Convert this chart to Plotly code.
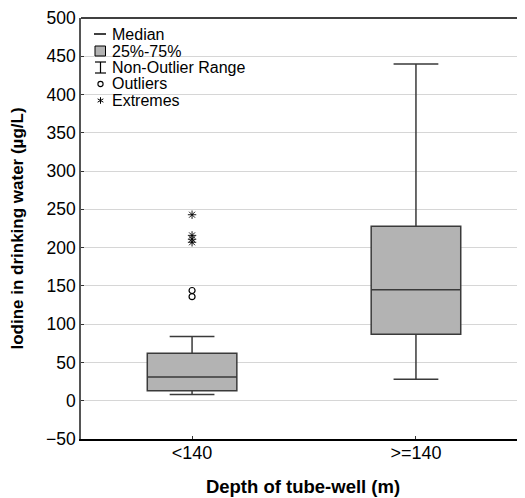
import plotly.graph_objects as go

# ---- data ----
categories = ["<140", ">=140"]
q1 = [13, 87]
medians = [31, 145]
q3 = [62, 228]
lower_fence = [8, 28]
upper_fence = [84, 440]

outlier_cats = ["<140", "<140"]
outlier_vals = [144, 136]
extreme_cats = ["<140", "<140", "<140", "<140"]
extreme_vals = [243, 216, 211, 207]

legend_labels = ["Median", "25%-75%", "Non-Outlier Range", "Outliers", "Extremes"]

y_ticks = list(range(-50, 501, 50))

# ---- figure (page body has an 8px margin, so the figure starts at 8,8) ----
OFF = 8
W, H = 525 - OFF, 498 - OFF
ML, MR, MT, MB = 81 - OFF, 0, 18 - OFF, 59
PW, PH = W - ML - MR, H - MT - MB

FONT = "Liberation Sans, Arial, Helvetica, sans-serif"

fig = go.Figure()
fig.add_trace(go.Box(
    x=categories, q1=q1, median=medians, q3=q3,
    lowerfence=lower_fence, upperfence=upper_fence,
    boxpoints=False, width=0.4, whiskerwidth=0.5,
    fillcolor="#b3b3b3", line=dict(color="#3a3a3a", width=1.5),
    showlegend=False, hoverinfo="skip",
))
fig.add_trace(go.Scatter(
    x=outlier_cats, y=outlier_vals, mode="markers",
    marker=dict(symbol="circle-open", size=6, color="black", line=dict(width=1.2)),
    showlegend=False,
))
fig.add_trace(go.Scatter(
    x=extreme_cats, y=extreme_vals, mode="markers",
    marker=dict(symbol="asterisk-open", size=7, color="black", line=dict(width=0.9)),
    showlegend=False,
))

# page-pixel -> paper coordinates
def px(xp):
    return (xp - OFF - ML) / PW

def py(yp):
    return (H - MB - (yp - OFF)) / PH

shapes = []
shapes.append(dict(type="line", xref="paper", yref="paper", x0=0, x1=1, y0=1, y1=1,
                   line=dict(color="black", width=1.5)))
row_y = [34, 51, 67.5, 84, 100.5]
cx = 100.5
shapes.append(dict(type="line", xref="paper", yref="paper", x0=px(94), x1=px(106),
                   y0=py(row_y[0]), y1=py(row_y[0]), line=dict(color="black", width=1.5)))
shapes.append(dict(type="rect", xref="paper", yref="paper", x0=px(95), x1=px(105.5),
                   y0=py(row_y[1] - 5), y1=py(row_y[1] + 5), fillcolor="#b3b3b3",
                   line=dict(color="black", width=1)))
for yy in (row_y[2] - 5.5, row_y[2] + 5.5):
    shapes.append(dict(type="line", xref="paper", yref="paper", x0=px(95), x1=px(106),
                       y0=py(yy), y1=py(yy), line=dict(color="black", width=1.2)))
shapes.append(dict(type="line", xref="paper", yref="paper", x0=px(cx), x1=px(cx),
                   y0=py(row_y[2] - 5.5), y1=py(row_y[2] + 5.5), line=dict(color="black", width=1.2)))
shapes.append(dict(type="circle", xref="paper", yref="paper", x0=px(cx - 2.6), x1=px(cx + 2.6),
                   y0=py(row_y[3] - 2.6), y1=py(row_y[3] + 2.6), line=dict(color="black", width=1.1)))
r = 3.3
for dx, dy in ((0, r), (r * 0.87, r * 0.5), (r * 0.87, -r * 0.5)):
    shapes.append(dict(type="line", xref="paper", yref="paper",
                       x0=px(cx - dx), x1=px(cx + dx), y0=py(row_y[4] - dy), y1=py(row_y[4] + dy),
                       line=dict(color="black", width=1.0)))

annotations = []
for lab, yy in zip(legend_labels, row_y):
    annotations.append(dict(text=lab, xref="paper", yref="paper", x=px(110), y=py(yy),
                            xanchor="left", yanchor="middle", showarrow=False,
                            font=dict(family=FONT, size=16, color="black")))

fig.update_layout(
    width=W, height=H,
    margin=dict(l=ML, r=MR, t=MT, b=MB, pad=0, autoexpand=False),
    paper_bgcolor="white", plot_bgcolor="white",
    font=dict(family=FONT, size=16, color="black"),
    shapes=shapes, annotations=annotations,
    showlegend=False,
)
fig.update_xaxes(
    type="category", range=[-0.496, 1.487], automargin=False,
    showgrid=False, showline=True, linecolor="black", linewidth=1.5,
    ticks="inside", ticklen=3, tickcolor="#333", tickwidth=1.2,
    tickfont=dict(family=FONT, size=18), ticklabelstandoff=-3,
    title=dict(text="<b>Depth of tube-well (m)</b>", font=dict(family=FONT, size=18.5), standoff=18),
    zeroline=False,
)
fig.update_yaxes(
    range=[-50, 500], tickvals=y_ticks, automargin=False,
    showgrid=True, gridcolor="#d6d6d6", gridwidth=1,
    showline=True, linecolor="#555", linewidth=1.5,
    ticks="inside", ticklen=3, tickcolor="#333",
    tickfont=dict(family=FONT, size=17.5),
    title=dict(text="<b>Iodine in drinking water (µg/L)</b>", font=dict(family=FONT, size=17), standoff=22),
    zeroline=False,
)

fig.write_html("out.html")
